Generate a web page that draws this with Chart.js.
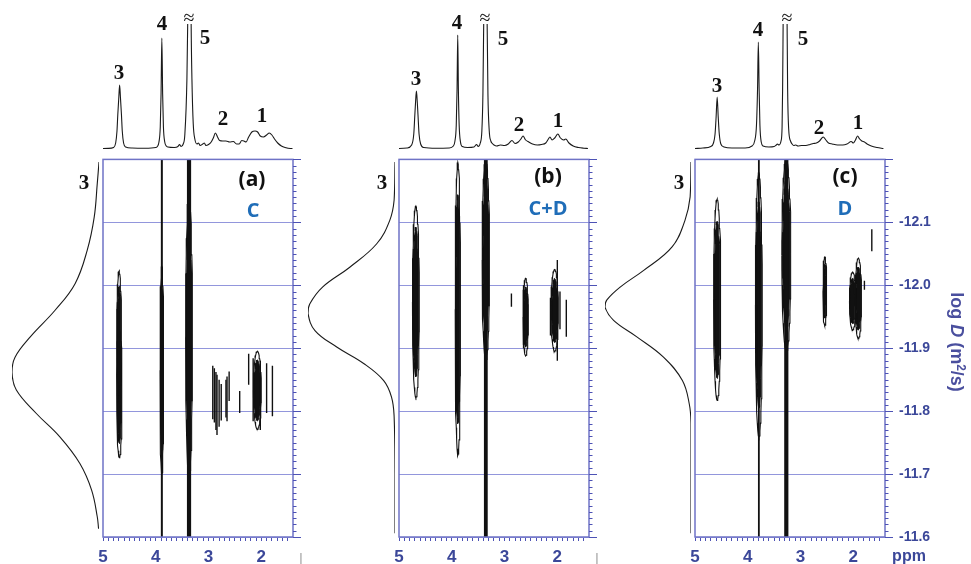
<!DOCTYPE html>
<html>
<head>
<meta charset="utf-8">
<script src="https://cdn.jsdelivr.net/npm/chart.js@4.4.1/dist/chart.umd.min.js"></script>
<style>
  html, body { margin: 0; padding: 0; background: #fff; }
  #root { position: relative; width: 971px; height: 564px; background: #fff; overflow: hidden; }
  #root canvas { position: absolute; }
  .lbl { position: absolute; transform: translate(-50%, -50%); white-space: nowrap; line-height: 1; }
</style>
</head>
<body>
<div id="root"></div>
<script>
// ---------- data ----------
const ppmTicks = [5, 4, 3, 2];
const logDTicks = [-12.1, -12.0, -11.9, -11.8, -11.7, -11.6];
const panelTags = ['(a)', '(b)', '(c)'];
const panelNames = ['C', 'C+D', 'D'];
const peakNames = ['3', '4', '5', '2', '1'];

// 1H spectra [ppm, intensity]
const specA = [[5.0,0.5],[4.9,0.6],[4.80,1.5],[4.76,6],[4.735,18],[4.72,34],[4.70,52],[4.685,64],[4.67,52],[4.65,34],[4.635,18],[4.61,6],[4.57,2],[4.45,1],[4.2,0.8],[4.0,1.5],[3.97,2.5],[3.94,7],[3.915,22],[3.90,55],[3.885,111],[3.87,55],[3.855,22],[3.83,7],[3.80,3],[3.77,2],[3.65,1.5],[3.58,2.5],[3.55,4.5],[3.52,2.5],[3.48,5],[3.45,14],[3.41,70],[3.395,126],[3.36,400],[3.33,126],[3.315,70],[3.29,25],[3.26,10],[3.22,5],[3.19,6],[3.16,3.5],[3.11,5],[3.08,6],[3.05,3.5],[3.0,4.5],[2.95,7],[2.91,11],[2.87,16],[2.83,12],[2.79,8.5],[2.73,8],[2.67,8],[2.6,7],[2.53,7.5],[2.47,5],[2.42,5],[2.37,8.5],[2.33,8],[2.29,7],[2.24,12],[2.18,17],[2.12,18],[2.07,17],[2.02,13],[1.96,12],[1.9,14],[1.85,16],[1.80,14],[1.75,10],[1.69,6],[1.62,3],[1.55,1.5],[1.45,0.5],[1.41,0.5]];
const specB = [[5.0,0.5],[4.85,1],[4.76,4],[4.72,15],[4.70,34],[4.685,48],[4.67,58],[4.655,48],[4.64,34],[4.62,15],[4.59,5],[4.53,1.5],[4.3,0.8],[4.05,1],[3.97,3],[3.94,8],[3.915,24],[3.90,60],[3.887,114],[3.875,60],[3.86,24],[3.835,7],[3.80,2.5],[3.7,1.5],[3.58,2],[3.53,4.5],[3.50,2.5],[3.46,6],[3.43,18],[3.41,55],[3.395,126],[3.36,400],[3.33,126],[3.315,55],[3.29,18],[3.26,8],[3.23,5.5],[3.2,4],[3.15,3],[3.08,4],[3.0,3.5],[2.93,5],[2.86,8.5],[2.80,5.5],[2.74,7],[2.69,10],[2.65,13],[2.60,9],[2.54,7],[2.47,5],[2.38,4],[2.30,4.5],[2.22,6],[2.17,10],[2.14,12],[2.10,9],[2.05,11],[1.99,15],[1.94,11],[1.88,9],[1.84,10],[1.78,6],[1.70,3],[1.6,1.5],[1.5,0.8],[1.42,0.5]];
const specC = [[5.0,0.5],[4.85,1],[4.70,2.5],[4.65,6],[4.62,15],[4.60,32],[4.58,52],[4.56,32],[4.54,15],[4.51,5],[4.45,2],[4.3,1],[4.05,1],[3.92,3],[3.87,8],[3.835,24],[3.815,60],[3.80,107],[3.785,60],[3.77,24],[3.745,7],[3.71,3],[3.6,2],[3.5,2.5],[3.46,4],[3.44,5],[3.41,4],[3.37,8],[3.35,22],[3.34,60],[3.33,126],[3.29,400],[3.255,126],[3.245,60],[3.225,20],[3.19,8],[3.16,5],[3.13,3.5],[3.09,4],[3.05,3],[2.98,3.5],[2.90,3.5],[2.82,4.5],[2.76,5.5],[2.70,6],[2.64,8],[2.57,12],[2.52,9],[2.47,6],[2.40,5],[2.30,4],[2.20,4],[2.12,5],[2.04,7.5],[2.00,6],[1.96,9],[1.92,13],[1.88,10],[1.84,8],[1.79,7],[1.74,5],[1.66,3],[1.55,1.5],[1.43,0.5]];

// diffusion projections of signal 3 [log D, relative intensity]
const projA = [[-12.192,0],[-12.158,0.02],[-12.105,0.055],[-12.053,0.135],[-12.0,0.275],[-11.958,0.505],[-11.916,0.79],[-11.884,0.965],[-11.86,1.0],[-11.832,0.95],[-11.795,0.72],[-11.758,0.45],[-11.716,0.22],[-11.674,0.085],[-11.632,0.02],[-11.613,0.005]];
const projB = [[-12.192,0],[-12.132,0.01],[-12.1,0.06],[-12.063,0.21],[-12.026,0.52],[-11.995,0.83],[-11.968,0.98],[-11.953,1.0],[-11.926,0.92],[-11.9,0.67],[-11.874,0.36],[-11.847,0.13],[-11.821,0.04],[-11.79,0.01],[-11.70,0],[-11.606,0]];
const projC = [[-12.192,0],[-12.137,0.01],[-12.1,0.07],[-12.058,0.22],[-12.021,0.55],[-11.995,0.82],[-11.974,0.98],[-11.963,1.0],[-11.942,0.9],[-11.916,0.63],[-11.884,0.32],[-11.847,0.1],[-11.81,0.02],[-11.779,0],[-11.70,0],[-11.606,0]];

// DOSY cross peaks [ppm, log D upper, log D lower, half width ppm]
const blobsA = [[4.695,-12.023,-11.80,0.045],[4.69,-11.93,-11.726,0.05],[3.885,-12.03,-11.70,0.034],[3.37,-12.14,-11.695,0.065],[2.075,-11.895,-11.771,0.075]];
const blobsB = [[4.68,-12.126,-11.821,0.065],[3.885,-12.195,-11.729,0.05],[3.355,-12.2,-11.88,0.07],[2.60,-12.011,-11.888,0.05],[2.05,-12.025,-11.895,0.07]];
const blobsC = [[4.58,-12.137,-11.817,0.068],[3.79,-12.179,-11.758,0.065],[3.27,-12.2,-11.895,0.085],[2.54,-12.045,-11.936,0.035],[2.013,-12.021,-11.929,0.06],[1.905,-12.043,-11.915,0.06]];

// isolated contour streaks [ppm, log D upper, log D lower]
const strokesA = [[2.92,-11.872,-11.787],[2.89,-11.868,-11.782],[2.86,-11.862,-11.77],[2.84,-11.858,-11.762],[2.80,-11.85,-11.775],[2.76,-11.843,-11.785],[2.67,-11.85,-11.79],[2.65,-11.855,-11.784],[2.61,-11.863,-11.816],[2.41,-11.832,-11.797],[2.24,-11.891,-11.842],[2.155,-11.884,-11.784],[2.02,-11.88,-11.77],[1.90,-11.876,-11.797],[1.79,-11.872,-11.792]];
const strokesB = [[2.87,-11.987,-11.966],[2.64,-12.0,-11.90],[2.56,-11.97,-11.92],[2.13,-11.98,-11.92],[2.00,-12.04,-11.88],[1.95,-11.99,-11.93],[1.83,-11.977,-11.918]];
const strokesC = [[1.79,-12.007,-11.993],[1.65,-12.089,-12.054]];

// strong signals spanning the whole diffusion range [ppm]
const columnsA = [3.885, 3.37];
const columnsB = [3.355];
const columnsC = [3.79, 3.27];

// ---------- layout & style ----------
const root = document.getElementById('root');
const PLOT_LEFT = [103, 399, 695];
const PLOT_TOP = 157, PLOT_W = 190, PLOT_H = 380;
const PAD = 12, AXIS_W = 60, XAXIS_H = 34;
const AXIS = '#4d52b5', GRID = '#9296dc', FRAME = '#6f73c6', TICKTXT = '#3b4799';
const INK = '#111';
const panels = [
  { spec: specA, proj: projA, blobs: blobsA, strokes: strokesA, columns: columnsA, colW: [2, 4.2], projLeft: 12, projW: 87,
    lbl: { p3: [119, 72], p4: [162, 23], ap: [189, 17], p5: [205, 37], p2: [223, 118], p1: [262, 115] }, side3: [84, 182], tag: [252, 178], name: [253, 210] },
  { spec: specB, proj: projB, blobs: blobsB, strokes: strokesB, columns: columnsB, colW: [3.8], projLeft: 308, projW: 87,
    lbl: { p3: [416, 78], p4: [457, 22], ap: [485, 17], p5: [503, 38], p2: [519, 124], p1: [558, 120] }, side3: [382, 182], tag: [548, 175], name: [548, 208] },
  { spec: specC, proj: projC, blobs: blobsC, strokes: strokesC, columns: columnsC, colW: [1.8, 4.2], projLeft: 605, projW: 86,
    lbl: { p3: [717, 85], p4: [758, 29], ap: [787, 17], p5: [803, 38], p2: [819, 127], p1: [858, 122] }, side3: [679, 182], tag: [845, 175], name: [845, 208] }
];

function makeCanvas(left, top, w, h) {
  const c = document.createElement('canvas');
  c.width = w; c.height = h;
  c.style.left = left + 'px'; c.style.top = top + 'px';
  c.style.width = w + 'px'; c.style.height = h + 'px';
  root.appendChild(c);
  return c;
}
function addText(html, x, y, style) {
  const el = document.createElement('div');
  el.className = 'lbl';
  el.innerHTML = html;
  el.style.left = x + 'px'; el.style.top = y + 'px';
  el.style.cssText += style;
  root.appendChild(el);
  return el;
}
const baseOpts = {
  responsive: false, animation: false, devicePixelRatio: 1,
  plugins: { legend: { display: false }, tooltip: { enabled: false } },
  events: []
};
const toXY = arr => arr.map(p => ({ x: p[0], y: p[1] }));

// frame around the 2D area
const framePlugin = {
  id: 'frame',
  afterDatasetsDraw(chart) {
    const a = chart.chartArea, ctx = chart.ctx;
    ctx.save(); ctx.strokeStyle = FRAME; ctx.lineWidth = 1.5;
    ctx.strokeRect(a.left, a.top, a.right - a.left, a.bottom - a.top);
    ctx.restore();
  }
};
// small ticks every 0.01 on the log D axis
const minorPlugin = {
  id: 'minorTicks',
  afterDraw(chart) {
    const y = chart.scales.y, a = chart.chartArea, ctx = chart.ctx;
    ctx.save(); ctx.strokeStyle = AXIS; ctx.lineWidth = 1;
    for (let k = 0; k <= 60; k++) {
      const py = Math.round(y.getPixelForValue(y.min + k * 0.01)) + 0.5;
      ctx.beginPath(); ctx.moveTo(a.right, py); ctx.lineTo(a.right + 3.5, py); ctx.stroke();
    }
    ctx.restore();
  }
};

// closed contour ring of a cross peak, scaled by contour level s
function ellipse(b, s) {
  const [c, top, bot, hw] = b;
  const cy = (top + bot) / 2, ry = (bot - top) / 2 * s, rx = hw * s;
  const pts = [];
  for (let k = 0; k <= 40; k++) {
    const t = k / 40 * 2 * Math.PI;
    pts.push({ x: c + rx * Math.cos(t), y: cy + ry * Math.sin(t) });
  }
  return pts;
}

panels.forEach((P, i) => {
  const L = PLOT_LEFT[i];

  // --- 1D spectrum on top ---
  const cs = makeCanvas(L, 0, PLOT_W, 152);
  new Chart(cs, {
    type: 'scatter',
    data: { datasets: [{ data: toXY(P.spec), showLine: true, pointRadius: 0, borderColor: '#1a1a1a', borderWidth: 1.1,
      cubicInterpolationMode: 'monotone', clip: { left: false, right: false, bottom: false, top: -24 } }] },
    options: Object.assign({}, baseOpts, {
      layout: { padding: { left: 0, right: 0, top: 0, bottom: 3 } },
      scales: {
        x: { type: 'linear', min: 1.4, max: 5, reverse: true, display: false },
        y: { type: 'linear', min: 0, max: 149, display: false }
      }
    })
  });

  // --- diffusion projection on the left ---
  const cp = makeCanvas(P.projLeft, PLOT_TOP, P.projW, PLOT_H);
  new Chart(cp, {
    type: 'scatter',
    data: { datasets: [{ data: P.proj.map(p => ({ x: p[1], y: p[0] })), showLine: true, pointRadius: 0,
      borderColor: '#1a1a1a', borderWidth: 1.1, tension: 0.4, clip: false }] },
    options: Object.assign({}, baseOpts, {
      layout: { padding: 0 },
      scales: {
        x: { type: 'linear', min: 0, max: 1, reverse: true, display: false },
        y: { type: 'linear', min: -12.2, max: -11.6, reverse: true, display: false }
      }
    })
  });

  // --- 2D DOSY map ---
  const ds = [];
  P.columns.forEach((c, k) => {
    ds.push({ data: [{ x: c, y: -12.2 }, { x: c, y: -11.6 }], borderWidth: P.colW[k] });
  });
  P.blobs.forEach(b => {
    ds.push({ data: ellipse(b, 1), borderWidth: 1.1 });
    ds.push({ data: ellipse(b, 0.78), borderWidth: 1, fill: 'shape', backgroundColor: INK });
    ds.push({ data: ellipse(b, 0.4), borderWidth: 0.6, borderColor: 'rgba(255,255,255,0.55)' });
  });
  P.strokes.forEach(s => {
    ds.push({ data: [{ x: s[0], y: s[1] }, { x: s[0], y: s[2] }], borderWidth: 1.4 });
  });
  ds.forEach(d => {
    d.showLine = true; d.pointRadius = 0; d.tension = 0;
    if (!d.borderColor) d.borderColor = INK;
  });

  const xTickVals = [];
  for (let k = 15; k <= 50; k++) xTickVals.push(k / 10);
  const yTickVals = [];
  for (let k = 0; k <= 6; k++) yTickVals.push(-12.2 + k * 0.1);

  const cm = makeCanvas(L - PAD, PLOT_TOP - PAD, PAD + PLOT_W + AXIS_W, PAD + PLOT_H + XAXIS_H);
  new Chart(cm, {
    type: 'scatter',
    data: { datasets: ds },
    plugins: [framePlugin, minorPlugin],
    options: Object.assign({}, baseOpts, {
      layout: { padding: { left: PAD, top: PAD, right: 0, bottom: 0 } },
      scales: {
        x: {
          type: 'linear', min: 1.4, max: 5, reverse: true, position: 'bottom',
          afterBuildTicks: s => { s.ticks = xTickVals.map(v => ({ value: v })); },
          afterFit: s => { s.height = XAXIS_H; },
          ticks: {
            autoSkip: false, maxRotation: 0, padding: 6, color: TICKTXT,
            font: { family: 'Liberation Sans, Arial, sans-serif', size: 17, weight: 'bold' },
            callback: v => { const r = Math.round(v); return (Math.abs(v - r) < 1e-6 && ppmTicks.includes(r)) ? String(r) : ''; }
          },
          grid: { drawOnChartArea: false, tickLength: 4, tickColor: AXIS, lineWidth: 1 },
          border: { display: false }
        },
        y: {
          type: 'linear', min: -12.2, max: -11.6, reverse: true, position: 'right',
          afterBuildTicks: s => { s.ticks = yTickVals.map(v => ({ value: v })); },
          afterFit: s => { s.width = AXIS_W; },
          ticks: {
            autoSkip: false, padding: 6, color: TICKTXT,
            font: { family: 'Liberation Sans, Arial, sans-serif', size: 14, weight: 'bold' },
            callback: v => {
              if (i !== 2) return '';
              const r = Math.round(v * 10) / 10;
              return logDTicks.some(t => Math.abs(t - r) < 1e-6) ? r.toFixed(1) : '';
            }
          },
          grid: { color: GRID, lineWidth: 1, tickLength: 8, tickColor: AXIS },
          border: { display: false }
        }
      }
    })
  });

  // --- annotations ---
  const serif = 'font-family:"Liberation Serif","Times New Roman",serif;font-weight:bold;font-size:21px;color:#111;';
  addText(peakNames[0], P.lbl.p3[0], P.lbl.p3[1], serif);
  addText(peakNames[1], P.lbl.p4[0], P.lbl.p4[1], serif);
  addText('&asymp;', P.lbl.ap[0], P.lbl.ap[1], 'font-family:"Liberation Serif",serif;font-size:20px;color:#111;');
  addText(peakNames[2], P.lbl.p5[0], P.lbl.p5[1], serif);
  addText(peakNames[3], P.lbl.p2[0], P.lbl.p2[1], serif);
  addText(peakNames[4], P.lbl.p1[0], P.lbl.p1[1], serif);
  addText(peakNames[0], P.side3[0], P.side3[1], serif);
  addText(panelTags[i], P.tag[0], P.tag[1], 'font-family:"Open Sans",sans-serif;font-weight:bold;font-size:21px;color:#111;');
  addText(panelNames[i], P.name[0], P.name[1], 'font-family:"Open Sans",sans-serif;font-weight:bold;font-size:20px;color:#1f6db8;');
});

// leftover axis marks beyond the ppm range on panels (a) and (b)
addText('|', 301, 557, 'font-family:"Liberation Sans",sans-serif;font-size:13px;color:#999;');
addText('|', 597, 557, 'font-family:"Liberation Sans",sans-serif;font-size:13px;color:#999;');

// axis captions
addText('ppm', 909, 556, 'font-family:"Liberation Sans",Arial,sans-serif;font-weight:bold;font-size:16px;color:' + TICKTXT + ';');
const t = addText('log <i>D</i> (m<sup style="font-size:12px;vertical-align:6px;line-height:0">2</sup>/s)', 957, 342,
  'font-family:"Liberation Sans",Arial,sans-serif;font-weight:bold;font-size:18px;color:#4a4f9e;');
t.style.transform = 'translate(-50%, -50%) rotate(90deg)';
</script>
</body>
</html>
